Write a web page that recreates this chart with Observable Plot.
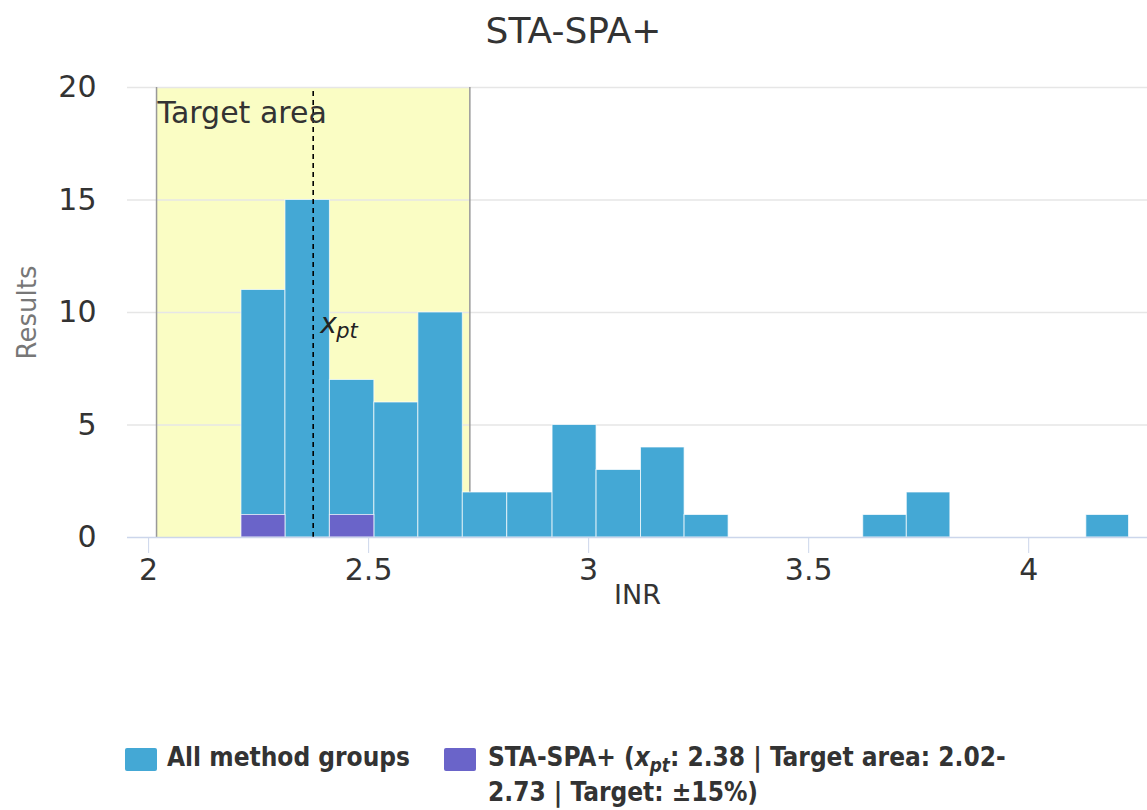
<!DOCTYPE html>
<html>
<head>
<meta charset="utf-8">
<script src="https://cdn.jsdelivr.net/npm/d3@7"></script>
<script src="https://cdn.jsdelivr.net/npm/@observablehq/plot@0.6"></script>
<style>
  html, body { margin: 0; padding: 0; background: #fff; }
  body { width: 1147px; height: 810px; position: relative; overflow: hidden; font-family: "DejaVu Sans", sans-serif; }
  #title { position: absolute; left: 0; top: 13px; width: 1147px; text-align: center; font-size: 36px; line-height: 36px; color: #333; }
  #chart { position: absolute; left: 0; top: 60px; }
  .leg { position: absolute; font-family: "DejaVu Sans Condensed", "DejaVu Sans", sans-serif; font-stretch: condensed; font-weight: bold; font-size: 26px; line-height: 33px; color: #333; white-space: nowrap; }
  .sw { position: absolute; width: 32px; height: 23px; border-radius: 2px; }
  .sub { font-size: 0.72em; position: relative; top: 0.3em; }
</style>
</head>
<body>
<div id="title">STA-SPA+</div>
<div id="chart"></div>
<div class="sw" style="left:125px; top:748px; background:#44a8d5;"></div>
<div class="leg" style="left:167px; top:741px;">All method groups</div>
<div class="sw" style="left:444px; top:748px; background:#6a64c9;"></div>
<div class="leg" style="left:488px; top:741px;">STA-SPA+ (<i>x</i><span class="sub"><i>pt</i></span>: 2.38 | Target area: 2.02-<br>2.73 | Target: ±15%)</div>
<script>
// ---- data ----
const binStart = [2.211, 2.311, 2.412, 2.513, 2.613, 2.714, 2.815, 2.918, 3.018, 3.119, 3.218, 3.624, 3.723, 4.131];
const binEnd   = [2.311, 2.412, 2.513, 2.613, 2.714, 2.815, 2.918, 3.018, 3.119, 3.218, 3.318, 3.723, 3.822, 4.228];
const allCounts   = [11, 15, 7, 6, 10, 2, 2, 5, 3, 4, 1, 1, 2, 1];
const groupCounts = [1, 0, 1, 0, 0, 0, 0, 0, 0, 0, 0, 0, 0, 0];
const xpt = 2.374;
const targetLow = 2.018;
const targetHigh = 2.730;
const xTicks = [2, 2.5, 3, 3.5, 4];
const yTicks = [0, 5, 10, 15, 20];

const blue = "#44a8d5";
const purple = "#6a64c9";
const yellow = "#fafdc4";

const allBins = binStart.map((s, i) => ({x1: s, x2: binEnd[i], n: allCounts[i]}));
const groupBins = binStart.map((s, i) => ({x1: s, x2: binEnd[i], n: groupCounts[i]})).filter(d => d.n > 0);
const target = [{x1: targetLow, x2: targetHigh}];

const chart = Plot.plot({
  width: 1147,
  height: 560,
  marginLeft: 127,
  marginRight: 0,
  marginTop: 27,
  marginBottom: 83,
  x: {domain: [1.952, 4.27]},
  y: {domain: [0, 20]},
  style: {fontFamily: "DejaVu Sans", background: "transparent", overflow: "visible", color: "#333"},
  marks: [
    Plot.rect(target, {x1: "x1", x2: "x2", y1: 0, y2: 20, fill: yellow}),
    Plot.gridY(yTicks.filter(d => d > 0), {stroke: "#e6e6e6", strokeOpacity: 1, strokeWidth: 1.5}),
    Plot.ruleX([targetLow, targetHigh], {y1: 0, y2: 20, stroke: "#999", strokeWidth: 1.5}),
    Plot.rect(allBins, {x1: "x1", x2: "x2", y1: 0, y2: "n", fill: blue, stroke: "#fff", strokeOpacity: 0.7, strokeWidth: 1, inset: 0}),
    Plot.rect(groupBins, {x1: "x1", x2: "x2", y1: 0, y2: "n", fill: purple, stroke: "#fff", strokeOpacity: 0.7, strokeWidth: 1, inset: 0}),
    Plot.ruleX([xpt], {y1: 0, y2: 20, stroke: "#000", strokeWidth: 1.6, strokeDasharray: "5,4"}),
    Plot.ruleY([0], {stroke: "#ccd6eb", strokeWidth: 1.5}),
    Plot.axisX({ticks: xTicks, tickSize: 16, tickPadding: 5, fontSize: 30, tickFormat: d => String(d), stroke: "#ccd6eb", fill: "#333", label: null}),
    Plot.axisY({ticks: yTicks, tickSize: 0, tickPadding: 31, fontSize: 30, tickFormat: d => String(d), fill: "#333", label: null}),
    Plot.text(["Target area"], {x: targetLow, y: 18.44, text: d => d, textAnchor: "start", lineAnchor: "bottom", dx: 1, fontSize: 30, fill: "#333"}),
    Plot.text(["x"], {x: xpt, y: 9.11, text: d => d, textAnchor: "start", lineAnchor: "bottom", dx: 7, fontSize: 28, fontStyle: "italic", fill: "#222"}),
    Plot.text(["pt"], {x: xpt, y: 9.11, text: d => d, textAnchor: "start", lineAnchor: "bottom", dx: 23, dy: 5, fontSize: 21, fontStyle: "italic", fill: "#222"}),
    Plot.text(["INR"], {frameAnchor: "bottom", text: d => d, lineAnchor: "top", dy: 47, fontSize: 27, fill: "#333"}),
    Plot.text(["Results"], {frameAnchor: "left", text: d => d, rotate: -90, textAnchor: "middle", dx: -100, fontSize: 26, fill: "#777"})
  ]
});
document.getElementById("chart").appendChild(chart);
</script>
</body>
</html>
